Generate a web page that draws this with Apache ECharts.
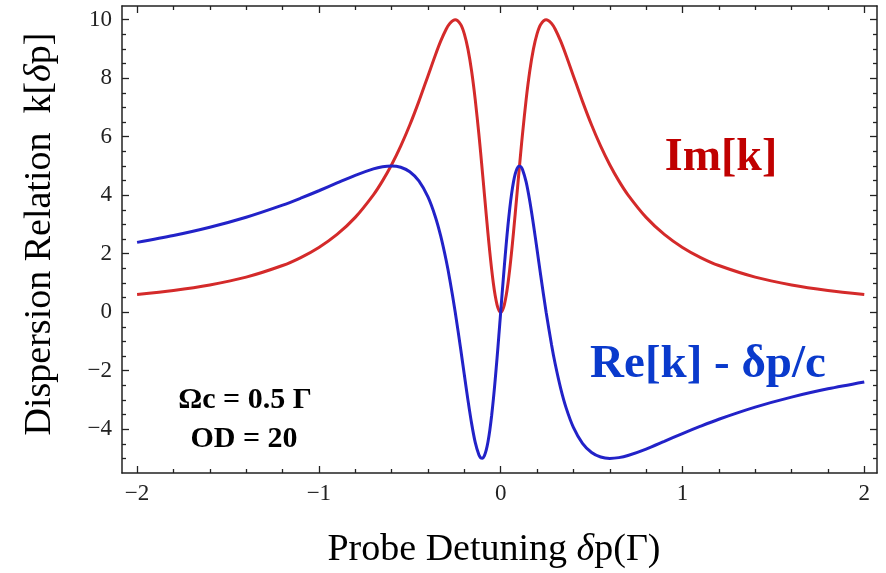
<!DOCTYPE html>
<html>
<head>
<meta charset="utf-8">
<script src="https://cdn.jsdelivr.net/npm/echarts@6/dist/echarts.min.js"></script>
<style>
  html, body { margin: 0; padding: 0; background: #fff; }
  #chart { width: 886px; height: 573px; }
</style>
</head>
<body>
<div id="chart"></div>
<script>
// probe detuning (Γ)
const detuning = [
  -2.0, -1.8, -1.6, -1.4, -1.2, -1.1, -1.0, -0.9, -0.8, -0.7, -0.65, -0.6, -0.55, -0.5, -0.45, -0.4,
  -0.36, -0.33, -0.3, -0.28, -0.25, -0.22, -0.2, -0.18, -0.16, -0.14, -0.12, -0.11, -0.1, -0.09,
  -0.08, -0.07, -0.06, -0.05, -0.04, -0.03, -0.02, -0.01, -0.005, 0,
  0.005, 0.01, 0.02, 0.03, 0.04, 0.05, 0.06, 0.07, 0.08, 0.09, 0.1, 0.11, 0.12, 0.14, 0.16, 0.18,
  0.2, 0.22, 0.25, 0.28, 0.3, 0.33, 0.36, 0.4, 0.45, 0.5, 0.55, 0.6, 0.65, 0.7, 0.8, 0.9, 1.0,
  1.1, 1.2, 1.4, 1.6, 1.8, 2.0
];
// Im[k]
const imK = [
  0.606, 0.743, 0.931, 1.198, 1.595, 1.868, 2.215, 2.660, 3.242, 4.013, 4.490, 5.042, 5.677, 6.400, 7.209, 8.080,
  8.780, 9.267, 9.675, 9.873, 10.0, 9.838, 9.518, 8.994, 8.246, 7.270, 6.088, 5.436, 4.756, 4.063,
  3.370, 2.697, 2.060, 1.479, 0.974, 0.560, 0.253, 0.064, 0.016, 0,
  0.016, 0.064, 0.253, 0.560, 0.974, 1.479, 2.060, 2.697, 3.370, 4.063, 4.756, 5.436, 6.088, 7.270, 8.246, 8.994,
  9.518, 9.838, 10.0, 9.873, 9.675, 9.267, 8.780, 8.080, 7.209, 6.400, 5.677, 5.042, 4.490, 4.013, 3.242, 2.660, 2.215,
  1.868, 1.595, 1.198, 0.931, 0.743, 0.606
];
// Re[k] - δp/c
const reK = [
  2.386, 2.622, 2.905, 3.247, 3.661, 3.898, 4.152, 4.419, 4.681, 4.902, 4.974, 5.000, 4.954, 4.800, 4.486, 3.939,
  3.273, 2.606, 1.774, 1.121, 0, -1.261, -2.142, -3.008, -3.803, -4.455, -4.880, -4.981, -4.994, -4.911,
  -4.727, -4.438, -4.044, -3.550, -2.964, -2.299, -1.570, -0.796, -0.400, 0,
  0.400, 0.796, 1.570, 2.299, 2.964, 3.550, 4.044, 4.438, 4.727, 4.911, 4.994, 4.981, 4.880, 4.455, 3.803, 3.008,
  2.142, 1.261, 0, -1.121, -1.774, -2.606, -3.273, -3.939, -4.486, -4.800, -4.954, -5.000, -4.974, -4.902, -4.681, -4.419, -4.152,
  -3.898, -3.661, -3.247, -2.905, -2.622, -2.386
];

// tick labels
const xMajor = [-2, -1, 0, 1, 2];
const xMinor = [-1.8, -1.6, -1.4, -1.2, -0.8, -0.6, -0.4, -0.2, 0.2, 0.4, 0.6, 0.8, 1.2, 1.4, 1.6, 1.8];
const yMajor = [-4, -2, 0, 2, 4, 6, 8, 10];
const yMinor = [-5, -4.5, -3.5, -3, -2.5, -1.5, -1, -0.5, 0.5, 1, 1.5, 2.5, 3, 3.5, 4.5, 5, 5.5,
  6.5, 7, 7.5, 8.5, 9, 9.5, 10.5];

const X_MIN = -2.083, X_MAX = 2.07;
const Y_MIN = -5.5, Y_MAX = 10.47;

const SERIF = '"Liberation Serif", "DejaVu Serif", serif';
const fmt = v => String(v).replace('-', '\u2212');

const chart = echarts.init(document.getElementById('chart'));

// 坐标轴：主刻度 + 次刻度，四边框
function xAxisOf(position, ticks, len, main) {
  return {
    type: 'value', position, min: X_MIN, max: X_MAX,
    axisLine: { show: main, onZero: false, lineStyle: { color: '#222', width: 1.5 } },
    axisTick: { show: true, inside: true, length: len, customValues: ticks,
      lineStyle: { color: '#222', width: 1.3 } },
    axisLabel: {
      show: main && position === 'bottom', customValues: ticks, margin: 9,
      fontFamily: SERIF, fontSize: 23, color: '#222', formatter: fmt
    },
    splitLine: { show: false }
  };
}
function yAxisOf(position, ticks, len, main) {
  return {
    type: 'value', position, min: Y_MIN, max: Y_MAX,
    axisLine: { show: main, onZero: false, lineStyle: { color: '#222', width: 1.5 } },
    axisTick: { show: true, inside: true, length: len, customValues: ticks,
      lineStyle: { color: '#222', width: 1.3 } },
    axisLabel: {
      show: main && position === 'left', customValues: ticks, margin: 10,
      fontFamily: SERIF, fontSize: 23, color: '#222', formatter: fmt
    },
    splitLine: { show: false }
  };
}

const nameRich = {
  n: { fontFamily: SERIF, fontSize: 38, color: '#222' },
  i: { fontFamily: SERIF, fontSize: 38, color: '#222', fontStyle: 'italic' }
};

const option = {
  animation: false,
  backgroundColor: '#fff',
  grid: { left: 122, right: 9, top: 6, bottom: 100, containLabel: false },
  xAxis: [
    xAxisOf('bottom', xMajor, 7, true),
    xAxisOf('bottom', xMinor, 4, false),
    xAxisOf('top', xMajor, 7, true),
    xAxisOf('top', xMinor, 4, false)
  ],
  yAxis: [
    yAxisOf('left', yMajor, 7, true),
    yAxisOf('left', yMinor, 4, false),
    yAxisOf('right', yMajor, 7, true),
    yAxisOf('right', yMinor, 4, false)
  ],
  series: [
    {
      name: 'Im[k]', type: 'line', xAxisIndex: 0, yAxisIndex: 0,
      data: detuning.map((x, i) => [x, imK[i]]),
      smooth: 0.3, showSymbol: false,
      lineStyle: { color: '#d42a2a', width: 3 }
    },
    {
      name: 'Re[k] - δp/c', type: 'line', xAxisIndex: 0, yAxisIndex: 0,
      data: detuning.map((x, i) => [x, reK[i]]),
      smooth: 0.3, showSymbol: false,
      lineStyle: { color: '#2222c8', width: 3 }
    }
  ],
  graphic: [
    {
      type: 'text', x: 40, y: 234, rotation: Math.PI / 2,
      style: { text: '{n|Dispersion Relation  k[}{i|δ}{n|p]}', rich: nameRich,
        textAlign: 'center', textVerticalAlign: 'middle' }
    },
    {
      type: 'text', x: 494, y: 550,
      style: { text: '{n|Probe Detuning }{i|δ}{n|p(Γ)}', rich: nameRich,
        textAlign: 'center', textVerticalAlign: 'middle' }
    },
    {
      type: 'text', x: 721, y: 158,
      style: { text: 'Im[k]', font: 'bold 46px ' + SERIF, fill: '#c00000',
        textAlign: 'center', textVerticalAlign: 'middle' }
    },
    {
      type: 'text', x: 708, y: 365,
      style: { text: 'Re[k] - δp/c', font: 'bold 47px ' + SERIF, fill: '#0a3acc',
        textAlign: 'center', textVerticalAlign: 'middle' }
    },
    {
      type: 'text', x: 245, y: 400,
      style: { text: 'Ωc = 0.5 Γ', font: 'bold 30px ' + SERIF, fill: '#000',
        textAlign: 'center', textVerticalAlign: 'middle' }
    },
    {
      type: 'text', x: 244, y: 439,
      style: { text: 'OD = 20', font: 'bold 30px ' + SERIF, fill: '#000',
        textAlign: 'center', textVerticalAlign: 'middle' }
    }
  ]
};

chart.setOption(option);
</script>
</body>
</html>
